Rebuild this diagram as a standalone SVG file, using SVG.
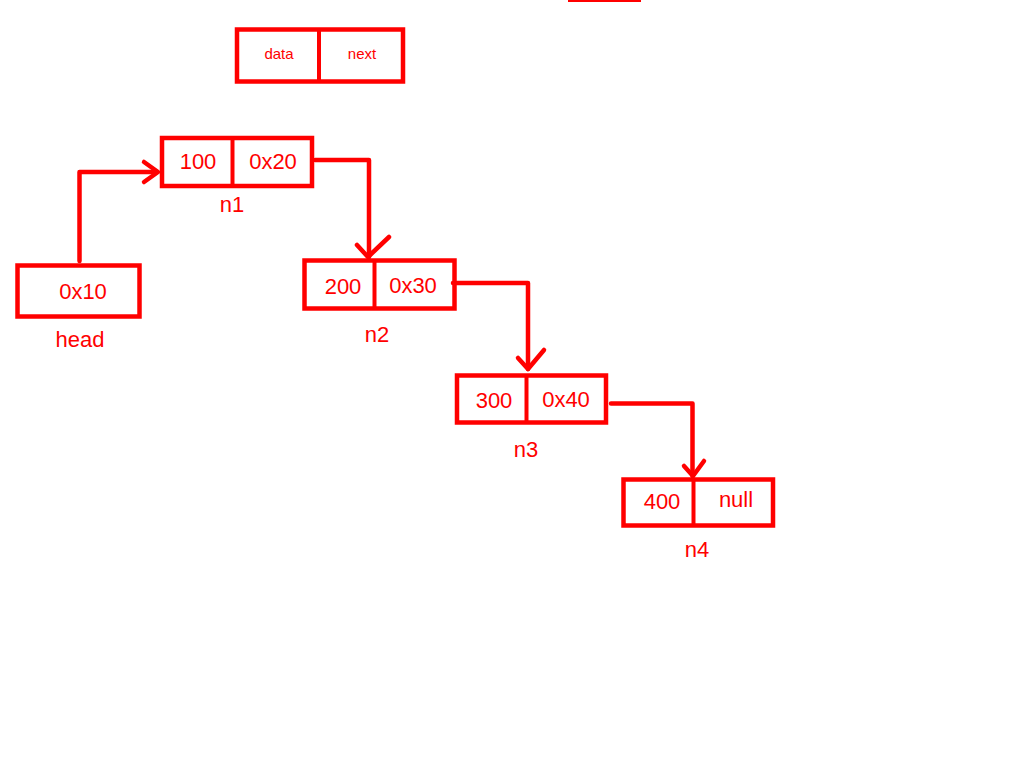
<svg xmlns="http://www.w3.org/2000/svg" width="1024" height="768" viewBox="0 0 1024 768">
<style>
.box{fill:none;stroke:#ff0000;stroke-width:4.5}
.div{stroke:#ff0000;stroke-width:4}
.t{font-family:"Liberation Sans",Arial,sans-serif;font-size:22px;fill:#ff0000;text-anchor:middle}
.s{font-family:"Liberation Sans",Arial,sans-serif;font-size:15px;fill:#ff0000;text-anchor:middle}
.c{fill:none;stroke:#ff0000;stroke-width:4.5;stroke-linejoin:round;stroke-linecap:round}
</style>
<rect x="0" y="0" width="1024" height="768" fill="#ffffff"/>
<line x1="568" y1="1" x2="641" y2="1" stroke="#ff0000" stroke-width="2"/>
<g id="template">
<rect class="box" x="237" y="29.5" width="166" height="52"/>
<line class="div" x1="319" y1="29.5" x2="319" y2="81.5"/>
<text class="s" x="279" y="59">data</text>
<text class="s" x="362" y="59">next</text>
</g>
<g id="head">
<rect class="box" x="17.5" y="265.5" width="122" height="51"/>
<text class="t" x="83" y="299">0x10</text>
<text class="t" x="80" y="347">head</text>
</g>
<g id="n1">
<rect class="box" x="162" y="138" width="150" height="48"/>
<line class="div" x1="232.5" y1="138" x2="232.5" y2="186"/>
<text class="t" x="198" y="169">100</text>
<text class="t" x="273" y="169">0x20</text>
<text class="t" x="232" y="212">n1</text>
</g>
<g id="n2">
<rect class="box" x="304.5" y="260.5" width="150" height="48"/>
<line class="div" x1="374.5" y1="260.5" x2="374.5" y2="308.5"/>
<text class="t" x="343" y="294">200</text>
<text class="t" x="413" y="293">0x30</text>
<text class="t" x="377" y="342">n2</text>
</g>
<g id="n3">
<rect class="box" x="457" y="375.5" width="149" height="47"/>
<line class="div" x1="526.5" y1="375.5" x2="526.5" y2="422.5"/>
<text class="t" x="494" y="408">300</text>
<text class="t" x="566" y="407">0x40</text>
<text class="t" x="526" y="457">n3</text>
</g>
<g id="n4">
<rect class="box" x="623.5" y="479.5" width="149.5" height="46"/>
<line class="div" x1="693.5" y1="479.5" x2="693.5" y2="525.5"/>
<text class="t" x="662" y="509">400</text>
<text class="t" x="736" y="507">null</text>
<text class="t" x="697" y="557">n4</text>
</g>
<g id="connectors">
<path class="c" d="M79.5 261 V172 H157"/>
<path class="c" d="M144 162 L158 172 L144 182"/>
<path class="c" d="M315 160 H369 V257"/>
<path class="c" d="M357 245 L368 257 L389 237"/>
<path class="c" d="M453 283 H528 V369"/>
<path class="c" d="M518 358 L528 369 L544 350"/>
<path class="c" d="M611 403.5 H692.5 V476"/>
<path class="c" d="M684 466 L693 476 L704 461"/>
</g>
</svg>
